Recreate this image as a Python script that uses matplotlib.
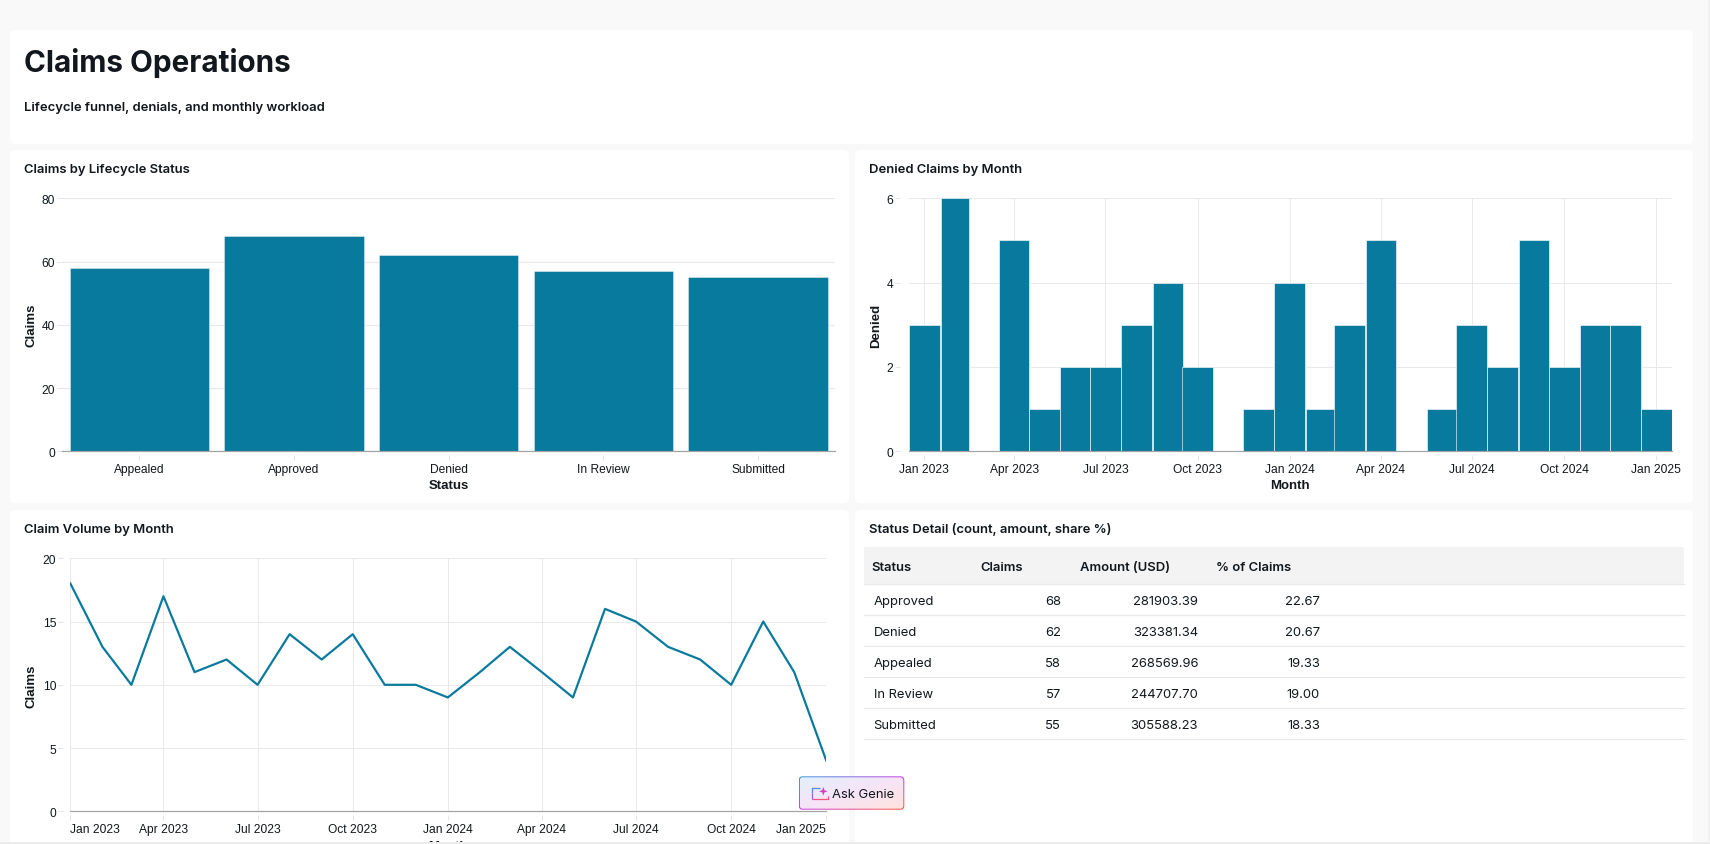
import numpy as np
import pandas as pd
import matplotlib
matplotlib.use("Agg")
from matplotlib import pyplot as plt
from matplotlib.colors import to_rgb
from matplotlib.patches import FancyBboxPatch, Rectangle, Polygon

# Data
statuses = ["Appealed", "Approved", "Denied", "In Review", "Submitted"]
status_claims = [58, 68, 62, 57, 55]

denied_per_month = [3, 6, 0, 5, 1, 2, 2, 3, 4, 2, 0, 1, 4, 1, 3, 5, 0, 1, 3, 2, 5, 2, 3, 3, 1]
claims_per_month = [18, 13, 10, 17, 11, 12, 10, 14, 12, 14, 10, 10, 9, 11, 13, 11, 9, 16, 15, 13, 12, 10, 15, 11, 4]

table_headers = ["Status", "Claims", "Amount (USD)", "% of Claims"]
table_status = ["Approved", "Denied", "Appealed", "In Review", "Submitted"]
table_claims = [68, 62, 58, 57, 55]
table_amount = [281903.39, 323381.34, 268569.96, 244707.70, 305588.23]
table_share = [22.67, 20.67, 19.33, 19.00, 18.33]

month_start = "2023-01-01"
month_tick_labels = ["Jan 2023", "Apr 2023", "Jul 2023", "Oct 2023", "Jan 2024", "Apr 2024",
                     "Jul 2024", "Oct 2024", "Jan 2025"]

# Colours
page_bg = "#F9F9F9"
bar_color = "#077A9D"
grid_color = "#E9E9E9"
tick_color = "#DDDDDD"
base_color = "#A3A3A3"
ink = "#11171C"

W, H = 1710, 845
px = 0.72  # points per pixel at dpi 100

plt.rcParams["font.family"] = ["Liberation Sans", "DejaVu Sans"]
ui_font = ["Inter", "Liberation Sans", "DejaVu Sans"]

fig = plt.figure(figsize=(W / 100, H / 100), dpi=100, facecolor=page_bg)

# Background layer in pixel coordinates, for the cards and all dashboard text
page = fig.add_axes([0, 0, 1, 1], zorder=0)
page.set_xlim(0, W)
page.set_ylim(H, 0)
page.axis("off")


def card(x0, y0, x1, y1):
    page.add_patch(FancyBboxPatch((x0 + 5, y0 + 5), x1 - x0 - 10, y1 - y0 - 10,
                                  boxstyle="round,pad=5,rounding_size=5",
                                  fc="white", ec="none", mutation_aspect=1))


card(10, 31, 1693, 145)
card(10, 151, 849, 504)
card(855, 151, 1693, 504)
card(10, 511, 849, 850)
card(855, 511, 1693, 850)

# scrollbar gutter on the right
page.add_patch(Rectangle((1708, 0), 2, H, fc="#F0F0F0", ec="none"))

page.text(23.8, 63, "Claims Operations", family=ui_font, fontsize=29.7 * px, weight="bold", color=ink, va="center")
page.text(23.8, 108.5, "Lifecycle funnel, denials, and monthly workload", family=ui_font, fontsize=13 * px,
          weight="semibold", color=ink, va="center")
for tx, ty, title in [(23.8, 170, "Claims by Lifecycle Status"), (868.5, 170, "Denied Claims by Month"),
                      (23.8, 530, "Claim Volume by Month"), (868.5, 530, "Status Detail (count, amount, share %)")]:
    page.text(tx, ty, title, family=ui_font, fontsize=13 * px, weight="semibold", color=ink, va="center")


def chart_axes(left, top, right, bottom):
    ax = fig.add_axes([left / W, 1 - bottom / H, (right - left) / W, (bottom - top) / H], zorder=2)
    ax.patch.set_visible(False)
    ax.set_axisbelow(True)
    for name, spine in ax.spines.items():
        spine.set_visible(False)
    ax.tick_params(axis="both", length=5 * px, width=0.8 * px, color=tick_color, labelcolor=ink,
                   labelsize=12 * px, pad=2 * px)
    ax.tick_params(axis="x", pad=3 * px)
    return ax


def finish_axes(ax, xlabel, ylabel, xlabel_pos, ylabel_pos, left_offset):
    # ticks sit a little away from the plot area, so the spines carry the offset
    ax.spines["bottom"].set_position(("outward", 4 * px))
    ax.spines["left"].set_position(("outward", left_offset * px))
    ax.axhline(0, color=base_color, lw=1.2 * px, zorder=2.5, clip_on=False)
    ax.set_xlabel(xlabel, fontsize=13.3 * px, weight="bold", color=ink)
    ax.set_ylabel(ylabel, fontsize=13.3 * px, weight="bold", color=ink)
    ax.xaxis.set_label_coords(*xlabel_pos, transform=page.transData)
    ax.yaxis.set_label_coords(*ylabel_pos, transform=page.transData)
    ax.xaxis.label.set_va("center")
    ax.yaxis.label.set_va("center")


months = pd.date_range(month_start, periods=len(denied_per_month), freq="MS")
month_x = matplotlib.dates.date2num(months)
month_days = months.days_in_month.to_numpy()
tick_x = month_x[::3]

# Claims by lifecycle status
ax1 = chart_axes(62, 199.3, 835.4, 452.3)
ax1.bar(statuses, status_claims, width=0.9, color=bar_color, edgecolor=(1, 1, 1, 0.45), linewidth=0.6)
ax1.set_xlim(-0.5, 4.5)
ax1.set_ylim(0, 80)
ax1.set_yticks([0, 20, 40, 60, 80])
ax1.grid(axis="y", color=grid_color, lw=1.2 * px)
finish_axes(ax1, "Status", "Claims", (449, 486), (31, 325.7), 0)

# Denied claims by month
ax2 = chart_axes(908.7, 199.3, 1671.7, 452.3)
ax2.bar(month_x, denied_per_month, width=month_days, color=bar_color, edgecolor=(1, 1, 1, 0.6), linewidth=0.7)
ax2.set_xlim(month_x[0] - 15.5, month_x[-1] + 15.5)
ax2.set_ylim(0, 6)
ax2.set_yticks([0, 2, 4, 6])
ax2.set_xticks(tick_x, month_tick_labels)
ax2.grid(axis="both", color=grid_color, lw=1.0 * px)
finish_axes(ax2, "Month", "Denied", (1290, 486), (876, 325.7), 8.5)

# Claim volume by month
ax3 = chart_axes(70.4, 559.3, 826.3, 812.3)
ax3.plot(month_x, claims_per_month, color=bar_color, lw=2.2 * px, zorder=3)
ax3.set_xlim(month_x[0], month_x[-1])
ax3.set_ylim(0, 20)
ax3.set_yticks([0, 5, 10, 15, 20])
ax3.set_xticks(tick_x, month_tick_labels)
ax3.grid(axis="both", color=grid_color, lw=1.0 * px)
finish_axes(ax3, "Month", "Claims", (448, 847), (31.5, 686), 7.2)
# end labels stay inside the plot width
ax3.get_xticklabels()[0].set_ha("left")
ax3.get_xticklabels()[-1].set_ha("right")

# Status detail table
page.add_patch(FancyBboxPatch((866, 550), 1682 - 866, 33, boxstyle="round,pad=2,rounding_size=2",
                              fc="#F3F3F3", ec="none"))
page.plot([864, 1684], [585.3, 585.3], color="#E8E8E8", lw=1.2 * px)
header_x = [871, 980, 1080, 1216.4]
for hx, label in zip(header_x, table_headers):
    page.text(hx, 568.5, label, family=ui_font, fontsize=13 * px, weight="semibold", color=ink, va="center")
row_top = 585.3
row_height = 31
for i in range(len(table_status)):
    row_y = row_top + row_height * (i + 0.5) + 1.5
    page.text(873.6, row_y, table_status[i], family=ui_font, fontsize=13 * px, color=ink, va="center")
    page.text(1061, row_y, str(table_claims[i]), family=ui_font, fontsize=13 * px, color=ink, va="center", ha="right")
    page.text(1198, row_y, f"{table_amount[i]:.2f}", family=ui_font, fontsize=13 * px, color=ink, va="center", ha="right")
    page.text(1320, row_y, f"{table_share[i]:.2f}", family=ui_font, fontsize=13 * px, color=ink, va="center", ha="right")
    page.plot([864, 1684], [row_top + row_height * (i + 1)] * 2, color="#E8E8E8", lw=1.2 * px)

# Top layer: page edge over the cut-off axis title, and the floating button
top = fig.add_axes([0, 0, 1, 1], zorder=5)
top.patch.set_visible(False)
top.axis("off")
top.add_patch(Rectangle((0, 843), W, 2, fc="#ECECEC", ec="none"))


def diagonal_gradient(c0, c1, c2, nx=120, ny=40):
    # blue top-left, purple top-right, coral bottom-right
    c0, c1, c2 = map(np.array, (to_rgb(c0), to_rgb(c1), to_rgb(c2)))
    u, v = np.meshgrid(np.linspace(0, 1, nx), np.linspace(0, 1, ny))
    t = (u + v) / 2
    img = np.zeros((ny, nx, 3))
    for k in range(3):
        img[:, :, k] = np.interp(t, [0, 0.5, 1], [c0[k], c1[k], c2[k]])
    return img


def gradient_box(x0, y0, x1, y1, radius, colors):
    box = FancyBboxPatch((x0 + radius, y0 + radius), x1 - x0 - 2 * radius, y1 - y0 - 2 * radius,
                         boxstyle=f"round,pad={radius},rounding_size={radius}", fc="none", ec="none")
    top.add_patch(box)
    im = top.imshow(diagonal_gradient(*colors), extent=(x0, x1, y1, y0), aspect="auto", zorder=6)
    im.set_clip_path(box)


gradient_box(798.7, 777.3, 904.3, 810.7, 4, ("#3F9BE0", "#C745E0", "#FF5A40"))
gradient_box(799.7, 778.3, 903.3, 809.7, 3, ("#E2F0FB", "#F6E4F8", "#FFE4DE"))
top.set_xlim(0, W)
top.set_ylim(H, 0)

# button icon: an open square with a small sparkle in its corner
top.plot([820, 812, 812], [788.5, 788.5, 794], color="#4C8FE3", lw=0.9, zorder=7, solid_capstyle="butt")
top.plot([812, 812], [794, 799.5], color="#A45BDC", lw=0.9, zorder=7, solid_capstyle="butt")
top.plot([812, 827.5, 827.5], [799.5, 799.5, 796.5], color="#F0567A", lw=0.9, zorder=7, solid_capstyle="butt")
top.add_patch(Polygon([(823.3, 788), (824.4, 791.2), (827.6, 792.3), (824.4, 793.4), (823.3, 796.6),
                       (822.2, 793.4), (819, 792.3), (822.2, 791.2)], fc="#D63FC4", ec="none", zorder=7))
top.text(831.5, 795.5, "Ask Genie", family=ui_font, fontsize=13 * px, color=ink, va="center", zorder=7)

fig.savefig("out.png", dpi=100, facecolor=page_bg)
